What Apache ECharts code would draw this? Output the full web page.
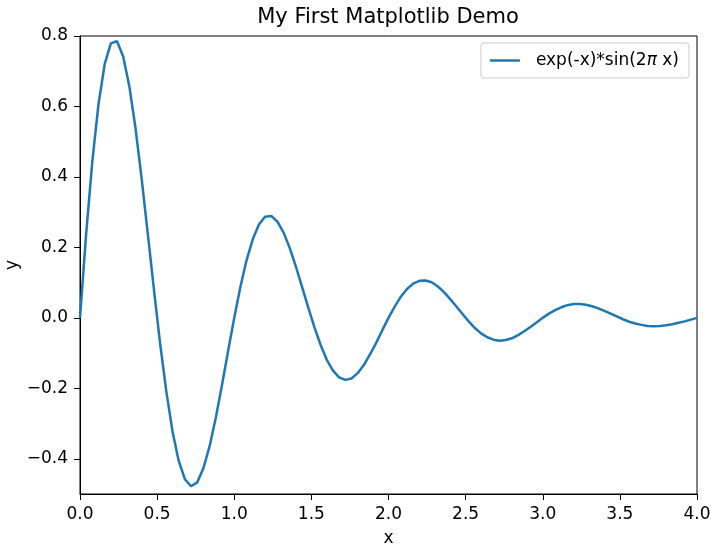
<!DOCTYPE html>
<html>
<head>
<meta charset="utf-8">
<script src="https://cdn.jsdelivr.net/npm/echarts@6/dist/echarts.min.js"></script>
<style>html,body{margin:0;padding:0;background:#fff}#c{width:711px;height:547px}</style>
</head>
<body>
<div id="c"></div>
<script>
const xValues = [0.00,0.04,0.08,0.12,0.16,0.20,0.24,0.28,0.32,0.36,0.40,0.44,0.48,0.52,0.56,0.60,0.64,0.68,0.72,0.76,0.80,0.84,0.88,0.92,0.96,
  1.00,1.04,1.08,1.12,1.16,1.20,1.24,1.28,1.32,1.36,1.40,1.44,1.48,1.52,1.56,1.60,1.64,1.68,1.72,1.76,1.80,1.84,1.88,1.92,1.96,
  2.00,2.04,2.08,2.12,2.16,2.20,2.24,2.28,2.32,2.36,2.40,2.44,2.48,2.52,2.56,2.60,2.64,2.68,2.72,2.76,2.80,2.84,2.88,2.92,2.96,
  3.00,3.04,3.08,3.12,3.16,3.20,3.24,3.28,3.32,3.36,3.40,3.44,3.48,3.52,3.56,3.60,3.64,3.68,3.72,3.76,3.80,3.84,3.88,3.92,3.96,4.00];
const yValues = [0.000,0.239,0.445,0.607,0.720,0.779,0.785,0.742,0.657,0.538,0.394,0.237,0.078,-0.075,-0.210,-0.323,-0.406,-0.458,-0.478,-0.467,-0.427,-0.365,-0.284,-0.192,-0.095,
  0.000,0.088,0.164,0.223,0.265,0.287,0.289,0.273,0.242,0.198,0.145,0.087,0.029,-0.027,-0.077,-0.119,-0.150,-0.169,-0.176,-0.172,-0.157,-0.134,-0.104,-0.071,-0.035,
  0.000,0.032,0.060,0.082,0.097,0.105,0.106,0.101,0.089,0.073,0.053,0.032,0.011,-0.010,-0.029,-0.044,-0.055,-0.062,-0.065,-0.063,-0.058,-0.049,-0.038,-0.026,-0.013,
  0.000,0.012,0.022,0.030,0.036,0.039,0.039,0.037,0.033,0.027,0.020,0.012,0.004,-0.004,-0.011,-0.016,-0.020,-0.023,-0.024,-0.023,-0.021,-0.018,-0.014,-0.010,-0.005,0.000];
const yTicks = [-0.4,-0.2,0.0,0.2,0.4,0.6,0.8];
const seriesName = 'exp(-x)*sin(2π x)';
const titleText = 'My First Matplotlib Demo';

const FONT = 'DejaVu Sans';
const FS = 17;
const fmt = v => (Math.abs(v) < 1e-9 ? 0 : v).toFixed(1).replace('-', '\u2212');

const chart = echarts.init(document.getElementById('c'), null, {renderer: 'canvas'});
chart.setOption({
  animation: false,
  backgroundColor: '#fff',
  title: {
    text: titleText, left: 388, top: 7, textAlign: 'center', padding: 0,
    textStyle: {fontFamily: FONT, fontSize: 21, fontWeight: 'normal', color: '#000'}
  },
  grid: {left: 80, right: 14, top: 36, bottom: 53, show: true, borderColor: '#000', borderWidth: 1,
         backgroundColor: 'transparent', containLabel: false, outerBoundsMode: 'none'},
  legend: {
    show: true, right: 22, top: 43,
    padding: [9, 10, 9, 9],
    borderColor: '#cccccc', borderWidth: 1, borderRadius: 3,
    backgroundColor: 'rgba(255,255,255,0.8)',
    itemWidth: 30, itemHeight: 2.5, icon: 'rect', itemGap: 10,
    formatter: () => '{a|exp(-x)*sin(2}{b|π}{a| x)}',
    textStyle: {
      color: '#000', fontFamily: FONT, fontSize: FS, padding: [0, 0, 0, 11],
      rich: {a: {fontFamily: FONT, fontSize: FS, color: '#000'}, b: {fontFamily: FONT, fontSize: FS, fontStyle: 'italic', color: '#000'}}
    },
    data: [seriesName]
  },
  xAxis: {
    type: 'value', min: 0, max: 4, interval: 0.5,
    name: 'x', nameLocation: 'middle', nameGap: 36, nameMoveOverlap: false,
    nameTextStyle: {fontFamily: FONT, fontSize: FS, color: '#000'},
    axisLine: {show: true, onZero: false, lineStyle: {color: '#000', width: 1}},
    axisTick: {show: true, inside: false, length: 6, lineStyle: {color: '#000'}},
    axisLabel: {fontFamily: FONT, fontSize: FS, color: '#000', margin: 12, formatter: fmt},
    splitLine: {show: false}
  },
  yAxis: {
    type: 'value', min: -0.5, max: 0.8,
    name: 'y', nameLocation: 'middle', nameGap: 59, nameMoveOverlap: false,
    nameTextStyle: {fontFamily: FONT, fontSize: FS, color: '#000'},
    axisLine: {show: true, onZero: false, lineStyle: {color: '#000', width: 1}},
    axisTick: {show: true, inside: false, length: 6, lineStyle: {color: '#000'}, customValues: yTicks},
    axisLabel: {fontFamily: FONT, fontSize: FS, color: '#000', margin: 12, formatter: fmt, customValues: yTicks},
    splitLine: {show: false}
  },
  series: [{
    name: seriesName, type: 'line',
    data: xValues.map((x, i) => [x, yValues[i]]),
    showSymbol: false, symbol: 'none', smooth: false,
    lineStyle: {color: '#1f77b4', width: 2.5},
    itemStyle: {color: '#1f77b4'},
    clip: true
  }]
});
</script>
</body>
</html>
